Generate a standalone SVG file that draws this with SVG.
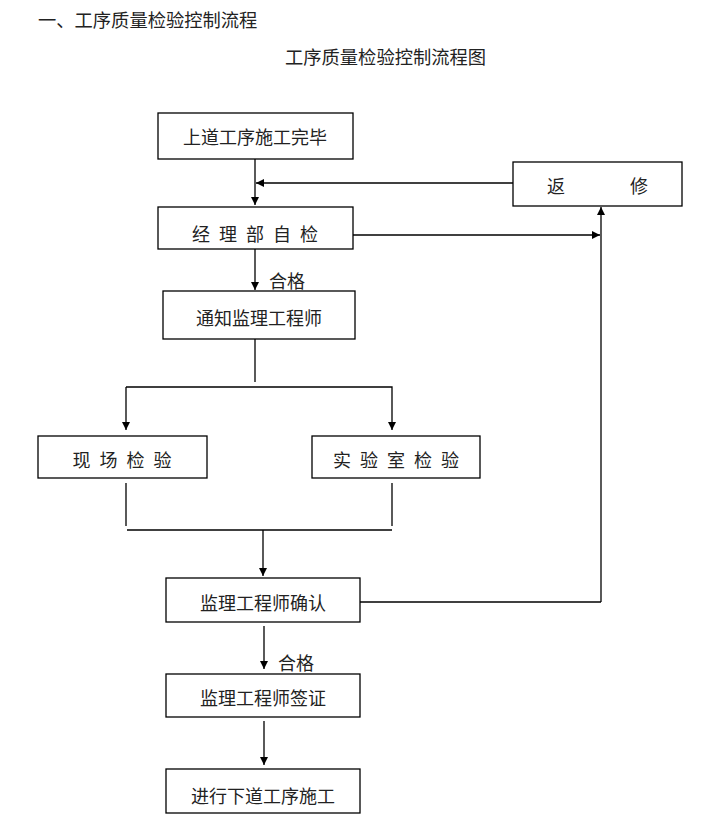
<svg xmlns="http://www.w3.org/2000/svg" width="704" height="840" viewBox="0 0 704 840">
<style>
.box{fill:#fff;stroke:#000;stroke-width:1.3}
.t{font-family:"Noto Sans CJK SC","Noto Sans CJK JP",sans-serif;font-size:18px;fill:#222;text-anchor:middle;dominant-baseline:central}
.sp{letter-spacing:9px}
.h{font-family:"Noto Sans CJK SC","Noto Sans CJK JP",sans-serif;font-size:18.3px;fill:#222}
.ln{fill:none;stroke:#000;stroke-width:1.3}
</style>
<defs>
<marker id="ar" viewBox="0 0 10 10" refX="10" refY="5" markerWidth="8" markerHeight="8" markerUnits="userSpaceOnUse" orient="auto">
<path d="M0,0 L10,5 L0,10 Z" fill="#000"/>
</marker>
</defs>
<rect width="704" height="840" fill="#fff"/>
<text class="h" x="38" y="27">一、工序质量检验控制流程</text>
<text class="h" x="285" y="64">工序质量检验控制流程图</text>

<g id="connectors">
<line class="ln" x1="255" y1="159" x2="255" y2="205" marker-end="url(#ar)"/>
<line class="ln" x1="513" y1="183" x2="256" y2="183" marker-end="url(#ar)"/>
<line class="ln" x1="353" y1="235" x2="600" y2="235" marker-end="url(#ar)"/>
<line class="ln" x1="601" y1="602" x2="601" y2="207" marker-end="url(#ar)"/>
<line class="ln" x1="255" y1="249" x2="255" y2="290" marker-end="url(#ar)"/>
<text class="t" x="287" y="280">合格</text>
<polyline class="ln" points="255,339 255,382"/>
<polyline class="ln" points="126,387 392,387 392,430" marker-end="url(#ar)"/>
<line class="ln" x1="126" y1="387" x2="126" y2="430" marker-end="url(#ar)"/>
<line class="ln" x1="126" y1="483" x2="126" y2="526"/>
<line class="ln" x1="392" y1="483" x2="392" y2="526"/>
<line class="ln" x1="127" y1="530" x2="392" y2="530"/>
<line class="ln" x1="263" y1="530" x2="263" y2="576" marker-end="url(#ar)"/>
<line class="ln" x1="360" y1="602" x2="601" y2="602"/>
<line class="ln" x1="264" y1="626" x2="264" y2="669" marker-end="url(#ar)"/>
<text class="t" x="296" y="662">合格</text>
<line class="ln" x1="264" y1="721" x2="264" y2="765" marker-end="url(#ar)"/>
</g>

<g id="n1"><rect class="box" x="158" y="113" width="195" height="46"/><text class="t" x="255" y="136">上道工序施工完毕</text></g>
<g id="n2"><rect class="box" x="158" y="207" width="195" height="42"/><text class="t sp" x="259.5" y="233">经理部自检</text></g>
<g id="n_fix"><rect class="box" x="513" y="162" width="169" height="44"/><text class="t" x="556" y="185">返</text><text class="t" x="639" y="185">修</text></g>
<g id="n3"><rect class="box" x="163" y="291" width="192" height="48"/><text class="t" x="259" y="317">通知监理工程师</text></g>
<g id="n4"><rect class="box" x="38" y="436" width="169" height="42"/><text class="t sp" x="126.5" y="459">现场检验</text></g>
<g id="n5"><rect class="box" x="312" y="436" width="168" height="42"/><text class="t sp" x="400.5" y="459">实验室检验</text></g>
<g id="n6"><rect class="box" x="166" y="578" width="194" height="44"/><text class="t" x="263" y="602">监理工程师确认</text></g>
<g id="n7"><rect class="box" x="166" y="674" width="194" height="43"/><text class="t" x="263" y="697">监理工程师签证</text></g>
<g id="n8"><rect class="box" x="166" y="769" width="194" height="44"/><text class="t" x="263" y="795">进行下道工序施工</text></g>
</svg>
